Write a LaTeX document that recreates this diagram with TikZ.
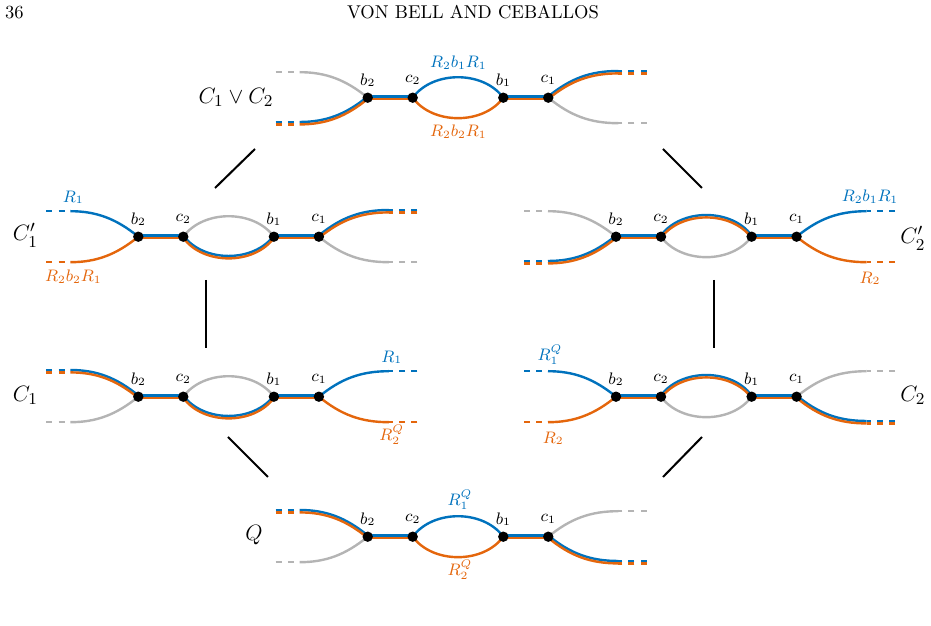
\documentclass[tikz,border=0pt]{standalone}
\usepackage{amsmath, amssymb}
\usepackage{tikz}
\definecolor{pathBlue}{RGB}{0, 114, 189}
\definecolor{pathOrange}{RGB}{228, 102, 12}
\definecolor{pathGray}{RGB}{180, 180, 180}

\tikzset{
  eg/.style={draw=pathGray, line width=1.3pt, #1},
  eg/.default={},
  eb/.style={draw=pathBlue, line width=1.3pt, #1},
  eb/.default={},
  eo/.style={draw=pathOrange, line width=1.3pt, #1},
  eo/.default={},
  ebo/.style={preaction={eb, transform canvas={yshift=0.65pt}, #1},
              postaction={eo, transform canvas={yshift=-0.65pt}, #1}},
  ebo/.default={},
  tail/.style={dash pattern=on 3.3pt off 3.3pt},
  vlab/.style={font=\small, inner sep=0pt},
  blab/.style={text=pathBlue, font=\small, inner sep=0pt},
  olab/.style={text=pathOrange, font=\small, inner sep=0pt},
  glab/.style={font=\fontsize{13}{15}\selectfont, inner sep=0pt},
  hasse/.style={line width=1.1pt}
}

% #1 position of b2, #2 name, #3-#8 edges (left up, left low, lens top, lens bottom, right up, right low), #9 labels
\newcommand{\gadget}[9]{%
  \begin{scope}[shift={#1}, name prefix=#2-]
    \coordinate (b2) at (0,0);
    \coordinate (c2) at (45,0);
    \coordinate (b1) at (135.6,0);
    \coordinate (c1) at (180.6,0);
    \coordinate (lu) at (-68,-25.5);   \coordinate (lut) at (-92,-25.5);
    \coordinate (ll) at (-68,25.5);    \coordinate (llt) at (-92,25.5);
    \coordinate (ru) at (250.6,-25.5); \coordinate (rut) at (279,-25.5);
    \coordinate (rl) at (250.6,25.5);  \coordinate (rlt) at (279,25.5);
    % left ends
    \path[#3] (b2) .. controls (-22,-18) and (-42,-25.5) .. (lu);
    \path[#3=tail] (lut) -- (lu);
    \path[#4] (b2) .. controls (-22,18) and (-42,25.5) .. (ll);
    \path[#4=tail] (llt) -- (ll);
    % middle
    \path[ebo] (b2) -- (c2);
    \path[#5] (c2) .. controls (65,-27.3) and (115.6,-27.3) .. (b1);
    \path[#6] (c2) .. controls (65,27.3) and (115.6,27.3) .. (b1);
    \path[ebo] (b1) -- (c1);
    % right ends
    \path[#7] (c1) .. controls (202.6,-18) and (222.6,-25.5) .. (ru);
    \path[#7=tail] (rut) -- (ru);
    \path[#8] (c1) .. controls (202.6,18) and (222.6,25.5) .. (rl);
    \path[#8=tail] (rlt) -- (rl);
    \foreach \v in {b2,c2,b1,c1}
      \fill (\v) circle (2.8pt);
    \node[vlab] at (0,-17.5) {$b_2$};
    \node[vlab] at (45,-17.5) {$c_2$};
    \node[vlab] at (135.6,-17.5) {$b_1$};
    \node[vlab] at (180.6,-17.5) {$c_1$};
    #9
  \end{scope}}

\begin{document}
\begin{tikzpicture}[x=0.54pt, y=-0.54pt]
  \useasboundingbox (0,0) rectangle (931,626);

  % running head
  \node[anchor=base] (pagenum) at (14.5,19) {36};
  \node[anchor=base] (runhead) at (473,19) {VON BELL AND CEBALLOS};

  \gadget{(367.7,97.7)}{top}{eg}{ebo}{eb}{eo}{ebo}{eg}{
    \node[glab, anchor=east] (lab) at (-94,0) {$C_1\vee C_2$};
    \node[blab] at (90.6,-35) {$R_2b_1R_1$};
    \node[olab] at (90.6,34) {$R_2b_2R_1$};}
  \gadget{(138.3,236.7)}{c1p}{eb}{eo}{eg}{ebo}{ebo}{eg}{
    \node[glab, anchor=east] (lab) at (-100,-1.5) {$C_1'$};
    \node[blab] at (-65,-39.4) {$R_1$};
    \node[olab] at (-65,40) {$R_2b_2R_1$};}
  \gadget{(616,236.7)}{c2p}{eg}{ebo}{ebo}{eg}{eb}{eo}{
    \node[glab, anchor=west] (lab) at (284,1.5) {$C_2'$};
    \node[blab] at (254,-40) {$R_2b_1R_1$};
    \node[olab] at (254,41.6) {$R_2$};}
  \gadget{(138.3,396.7)}{c1}{ebo}{eg}{eg}{ebo}{eb}{eo}{
    \node[glab, anchor=east] (lab) at (-100,-1.5) {$C_1$};
    \node[blab] at (253.4,-39.4) {$R_1$};
    \node[olab] at (253.4,38.3) {$R_2^Q$};}
  \gadget{(616,396.7)}{c2}{eb}{eo}{ebo}{eg}{eg}{ebo}{
    \node[glab, anchor=west] (lab) at (284,-1.5) {$C_2$};
    \node[blab] at (-66,-41.7) {$R_1^Q$};
    \node[olab] at (-62.7,41.6) {$R_2$};}
  \gadget{(367.7,536.7)}{q}{ebo}{eg}{eb}{eo}{eg}{ebo}{
    \node[glab, anchor=east] (lab) at (-104.7,-1.5) {$Q$};
    \node[blab] at (92.3,-36.7) {$R_1^Q$};
    \node[olab] at (92.3,33.3) {$R_2^Q$};}

  % order relations
  \coordinate (top-w) at (255,149);   \coordinate (top-e) at (663,149);
  \coordinate (c1p-ne) at (215,188);  \coordinate (c1p-s) at (206,280);
  \coordinate (c2p-nw) at (702,188);  \coordinate (c2p-s) at (714,280);
  \coordinate (c1-n) at (206,348);    \coordinate (c1-se) at (228,437);
  \coordinate (c2-n) at (714,348);    \coordinate (c2-sw) at (702,437);
  \coordinate (q-nw) at (268,477);    \coordinate (q-ne) at (663,477);
  \draw[hasse] (top-w) -- (c1p-ne);
  \draw[hasse] (top-e) -- (c2p-nw);
  \draw[hasse] (c1p-s) -- (c1-n);
  \draw[hasse] (c2p-s) -- (c2-n);
  \draw[hasse] (c1-se) -- (q-nw);
  \draw[hasse] (c2-sw) -- (q-ne);
\end{tikzpicture}
\end{document}
